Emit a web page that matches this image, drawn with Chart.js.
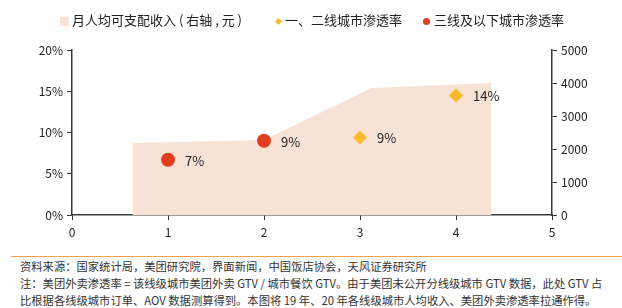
<!DOCTYPE html>
<html>
<head>
<meta charset="utf-8">
<script src="https://cdn.jsdelivr.net/npm/chart.js@4.4.0/dist/chart.umd.min.js"></script>
<style>
  html, body { margin: 0; padding: 0; background: #fff; }
  body { width: 622px; height: 308px; overflow: hidden; font-family: "Noto Sans CJK SC", "Noto Sans", sans-serif; color: #222; position: relative; }
  #wrap { position: absolute; left: 0; top: 0; width: 622px; height: 248px; }
  #legend { position: absolute; top: 10px; left: 0; width: 622px; font-size: 13px; white-space: nowrap; }
  #legend span.item { position: absolute; top: 0; line-height: 20px; }
  .mk { position: absolute; top: 7px; }
  #rule { position: absolute; left: 11px; right: 0; top: 256px; height: 1px; background: #F5A04B; }
  #notes { position: absolute; left: 20px; top: 258px; font-size: 11.3px; line-height: 17px; color: #333; white-space: nowrap; }
</style>
</head>
<body>
<div id="wrap"><canvas id="chart" width="622" height="248"></canvas></div>
<div id="legend">
  <span class="mk" style="left:60px;width:9px;height:9px;background:#F8E2D5"></span>
  <span class="item" style="left:72px">月人均可支配收入 ( 右轴 , 元 )</span>
  <span class="mk" style="left:276px;top:9px;width:5px;height:5px;background:#FBB92B;transform:rotate(45deg)"></span>
  <span class="item" style="left:285px">一、二线城市渗透率</span>
  <span class="mk" style="left:423px;top:8px;width:7px;height:7px;border-radius:50%;background:#E03E1E"></span>
  <span class="item" style="left:434px">三线及以下城市渗透率</span>
</div>
<div id="rule"></div>
<div id="notes">
  <div>资料来源：国家统计局，美团研究院，界面新闻，中国饭店协会，天风证券研究所</div>
  <div>注：美团外卖渗透率 = 该线级城市美团外卖 GTV / 城市餐饮 GTV。由于美团未公开分线级城市 GTV 数据，此处 GTV 占</div>
  <div>比根据各线级城市订单、AOV 数据测算得到。本图将 19 年、20 年各线级城市人均收入、美团外卖渗透率拉通作得。</div>
</div>
<script>
// 月人均可支配收入（右轴）
const incomeX = [0.63, 2.0, 3.12, 4.37];
const incomeY = [2180, 2270, 3850, 4000];

// 一、二线城市渗透率
const tier12X = [3, 4];
const tier12Y = [9.4, 14.5];
const tier12Labels = ['9%', '14%'];

// 三线及以下城市渗透率
const tier3X = [1, 2];
const tier3Y = [6.7, 9.0];
const tier3Labels = ['7%', '9%'];

const leftTicks = [0, 5, 10, 15, 20];
const rightTicks = [0, 1000, 2000, 3000, 4000, 5000];

const axisColor = '#3a3a3a';
const tickFont = { family: 'Noto Sans CJK SC', size: 12 };

const pointLabels = {
    id: 'pointLabels',
    afterDatasetsDraw(chart) {
        const ctx = chart.ctx;
        ctx.save();
        ctx.font = '13px "Noto Sans CJK SC"';
        ctx.fillStyle = '#222';
        ctx.textBaseline = 'middle';
        chart.data.datasets.forEach((ds, i) => {
            if (!ds.labels) return;
            chart.getDatasetMeta(i).data.forEach((pt, j) => {
                ctx.fillText(ds.labels[j], pt.x + 17, pt.y + 1);
            });
        });
        ctx.restore();
    }
};

new Chart(document.getElementById('chart'), {
    type: 'scatter',
    data: {
        datasets: [
            {
                type: 'scatter',
                data: tier3X.map((x, i) => ({ x: x, y: tier3Y[i] })),
                labels: tier3Labels,
                yAxisID: 'y',
                pointStyle: 'circle',
                pointRadius: 7,
                pointHoverRadius: 7,
                backgroundColor: '#E03E1E',
                borderWidth: 0,
                order: 1
            },
            {
                type: 'scatter',
                data: tier12X.map((x, i) => ({ x: x, y: tier12Y[i] })),
                labels: tier12Labels,
                yAxisID: 'y',
                pointStyle: 'rectRot',
                pointRadius: 7,
                pointHoverRadius: 7,
                backgroundColor: '#FBB92B',
                borderWidth: 0,
                order: 1
            },
            {
                type: 'line',
                data: incomeX.map((x, i) => ({ x: x, y: incomeY[i] })),
                yAxisID: 'y2',
                fill: 'origin',
                backgroundColor: '#F8E2D5',
                borderWidth: 0,
                borderColor: 'rgba(0,0,0,0)',
                pointRadius: 0,
                tension: 0,
                order: 2
            }
        ]
    },
    options: {
        responsive: false,
        animation: false,
        layout: { padding: { top: 50, left: 0, right: 0, bottom: 0 } },
        plugins: { legend: { display: false }, tooltip: { enabled: false } },
        scales: {
            x: {
                type: 'linear',
                min: 0, max: 5,
                ticks: { stepSize: 1, color: '#222', font: tickFont, padding: 5 },
                grid: { drawOnChartArea: false, drawTicks: true, tickLength: 5, color: axisColor },
                border: { display: true, color: axisColor, width: 1.5 },
                afterFit(scale) { scale.height = 33; }
            },
            y: {
                position: 'left',
                min: 0, max: 20,
                afterBuildTicks(scale) { scale.ticks = leftTicks.map(v => ({ value: v })); },
                ticks: { color: '#222', font: tickFont, padding: 4, callback: v => v + '%' },
                grid: { drawOnChartArea: false, drawTicks: true, tickLength: 5, color: axisColor },
                border: { display: true, color: axisColor, width: 1.5 },
                afterFit(scale) { scale.width = 72; }
            },
            y2: {
                position: 'right',
                min: 0, max: 5000,
                afterBuildTicks(scale) { scale.ticks = rightTicks.map(v => ({ value: v })); },
                ticks: { color: '#222', font: tickFont, padding: 4, callback: v => String(v) },
                grid: { drawOnChartArea: false, drawTicks: true, tickLength: 5, color: axisColor },
                border: { display: true, color: axisColor, width: 1.5 },
                afterFit(scale) { scale.width = 70; }
            }
        }
    },
    plugins: [pointLabels]
});
</script>
</body>
</html>
